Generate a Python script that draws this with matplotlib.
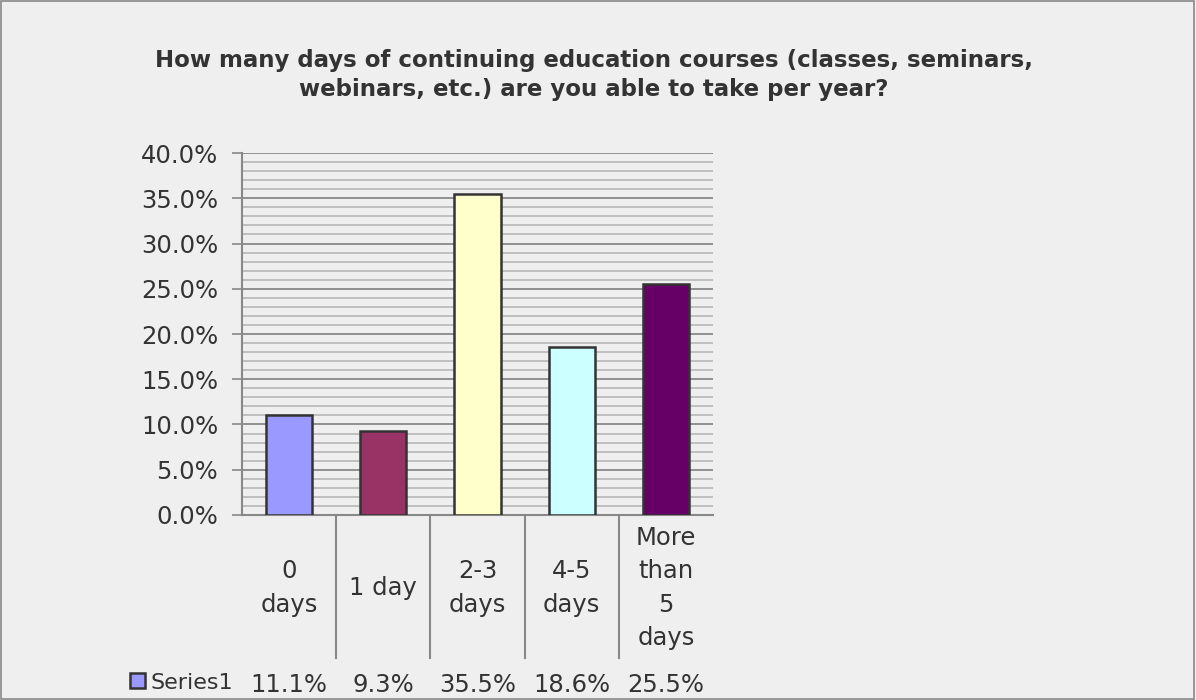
import matplotlib.pyplot as plt
import matplotlib.patches as patches
from matplotlib.ticker import MultipleLocator, PercentFormatter

categories = ["0\ndays", "1 day", "2-3\ndays", "4-5\ndays", "More\nthan\n5\ndays"]
values = [11.1, 9.3, 35.5, 18.6, 25.5]
series_name = "Series1"
colors = ["#9999ff", "#993366", "#ffffcc", "#ccffff", "#660066"]

bg = "#efefef"
txt = "#333333"

fig = plt.figure(figsize=(11.96, 7.0), dpi=100, facecolor=bg)
fig.patches.append(patches.Rectangle((0.0005, 0.001), 0.998, 0.997, transform=fig.transFigure,
                                     fill=False, edgecolor="#888888", linewidth=1.2))

ax = fig.add_axes([0.2023, 0.2643, 0.3939, 0.5171], facecolor=bg)

x = range(len(categories))
ax.bar(x, values, width=0.49, color=colors, edgecolor="#333333", linewidth=1.8, zorder=3)

ax.set_xlim(-0.5, len(categories) - 0.5)
ax.set_ylim(0, 40)
ax.yaxis.set_major_locator(MultipleLocator(5))
ax.yaxis.set_minor_locator(MultipleLocator(1))
ax.yaxis.set_major_formatter(PercentFormatter(decimals=1))
ax.grid(axis="y", which="major", color="#888888", linewidth=1.3, zorder=0)
ax.grid(axis="y", which="minor", color="#bbbbbb", linewidth=1.3, zorder=0)
ax.tick_params(axis="y", which="major", length=7, width=1.2, color="#888888",
               labelsize=17.5, labelcolor=txt, pad=10)
ax.tick_params(axis="y", which="minor", length=0)
ax.set_xticks([])

for s in ["top", "right"]:
    ax.spines[s].set_visible(False)
ax.spines["left"].set_color("#888888")
ax.spines["left"].set_linewidth(1.5)
ax.spines["bottom"].set_color("#888888")
ax.spines["bottom"].set_linewidth(1.5)

# data table under the axis
tr = ax.get_xaxis_transform()
for i, cat in enumerate(categories):
    ax.text(i, -0.2017, cat, transform=tr, ha="center", va="center", fontsize=17.5,
            color=txt, linespacing=1.5, clip_on=False)
    ax.text(i, -0.4696, f"{values[i]:.1f}%", transform=tr, ha="center", va="center",
            fontsize=17.5, color=txt, clip_on=False)
for i in range(1, len(categories)):
    ax.plot([i - 0.5, i - 0.5], [0, -0.395], transform=tr, color="#888888",
            linewidth=1.5, clip_on=False)

fig.patches.append(patches.Rectangle((130 / 1196, 1 - 688 / 700), 15 / 1196, 15 / 700,
                                     transform=fig.transFigure, facecolor=colors[0],
                                     edgecolor="#333333", linewidth=1.8))
fig.text(150 / 1196, 1 - 683 / 700, series_name, ha="left", va="center", fontsize=16, color=txt)

fig.text(0.4966, 1 - 75 / 700,
         "How many days of continuing education courses (classes, seminars,\n"
         "webinars, etc.) are you able to take per year?",
         ha="center", va="center", fontsize=16.5, fontweight="bold", color=txt,
         linespacing=1.3)

fig.savefig("out.png", dpi=100, facecolor=bg)
